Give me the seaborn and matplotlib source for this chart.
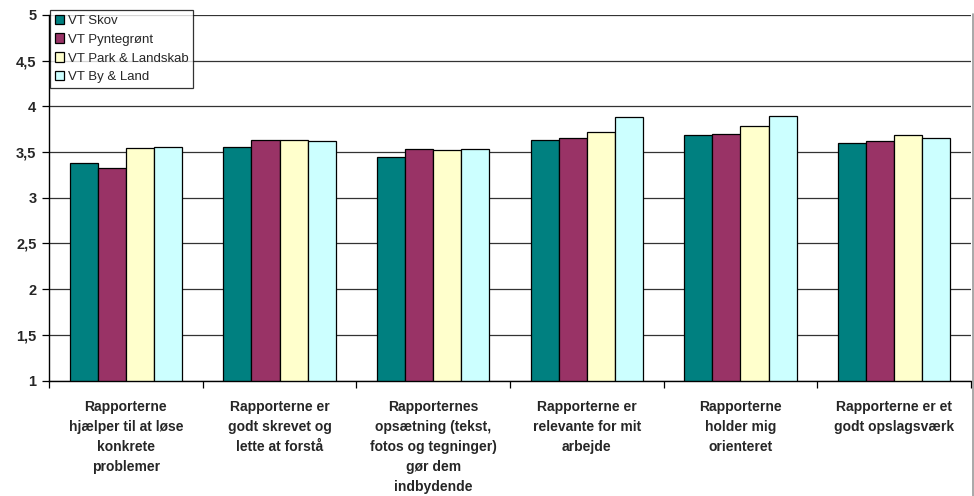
import pandas as pd
import seaborn as sns
import matplotlib.pyplot as plt
from matplotlib.lines import Line2D
from matplotlib.ticker import FuncFormatter, MultipleLocator, FixedLocator

categories = [
    "Rapporterne\nhjælper til at løse\nkonkrete\nproblemer",
    "Rapporterne er\ngodt skrevet og\nlette at forstå",
    "Rapporternes\nopsætning (tekst,\nfotos og tegninger)\ngør dem\nindbydende",
    "Rapporterne er\nrelevante for mit\narbejde",
    "Rapporterne\nholder mig\norienteret",
    "Rapporterne er et\ngodt opslagsværk",
]
series = ["VT Skov", "VT Pyntegrønt", "VT Park & Landskab", "VT By & Land"]
skov = [3.38, 3.56, 3.45, 3.63, 3.69, 3.60]
pyntegroent = [3.33, 3.63, 3.53, 3.65, 3.70, 3.62]
park = [3.54, 3.63, 3.52, 3.72, 3.78, 3.69]
by_land = [3.56, 3.62, 3.53, 3.88, 3.90, 3.65]
colors = ["#008080", "#993366", "#FFFFCC", "#CCFFFF"]

rows = []
for name, vals in zip(series, [skov, pyntegroent, park, by_land]):
    for cat, v in zip(categories, vals):
        rows.append({"kategori": cat, "serie": name, "værdi": v})
df = pd.DataFrame(rows)

sns.set_theme(style="white")
plt.rcParams["font.family"] = ["Liberation Sans", "DejaVu Sans"]

fig = plt.figure(figsize=(9.74, 4.96), dpi=100)
ax = fig.add_axes([49 / 974, 1 - 380.5 / 496, 922 / 974, 365.5 / 496])

sns.barplot(
    data=df,
    x="kategori",
    y="værdi",
    hue="serie",
    palette=colors,
    saturation=1,
    width=0.73,
    edgecolor="black",
    linewidth=0.9,
    ax=ax,
)

ax.set_ylim(1, 5)
ax.set_xlim(-0.5, len(categories) - 0.5)
ax.yaxis.set_major_locator(MultipleLocator(0.5))
ax.yaxis.set_major_formatter(
    FuncFormatter(lambda v, p: ("%g" % v).replace(".", ","))
)
ax.yaxis.grid(True, color="#333333", linewidth=0.9)
ax.set_axisbelow(True)
ax.set_xlabel("")
ax.set_ylabel("")

for s in ["top", "right"]:
    ax.spines[s].set_visible(False)
for s in ["left", "bottom"]:
    ax.spines[s].set_color("black")
    ax.spines[s].set_linewidth(1.0)

ax.tick_params(axis="y", left=True, length=5, width=0.9, color="black",
               labelsize=10.5, pad=4)
for lbl in ax.get_yticklabels():
    lbl.set_fontweight("bold")

ax.tick_params(axis="x", which="major", length=0, labelsize=10, pad=14)
ax.xaxis.set_minor_locator(FixedLocator([i - 0.5 for i in range(len(categories) + 1)]))
ax.tick_params(axis="x", which="minor", bottom=True, length=5, width=0.9, color="black")
for lbl in ax.get_xticklabels():
    lbl.set_fontweight("bold")
    lbl.set_linespacing(1.55)

leg = ax.legend(
    loc="upper left",
    bbox_to_anchor=(50 / 974, 1 - 10 / 496),
    bbox_transform=fig.transFigure,
    frameon=True,
    fancybox=False,
    edgecolor="black",
    fontsize=9.5,
    handlelength=0.7,
    handleheight=0.7,
    handletextpad=0.3,
    borderpad=0.35,
    labelspacing=0.5,
    borderaxespad=0,
)
leg.get_frame().set_linewidth(0.9)

# grey chart border on the right edge
fig.add_artist(Line2D([972.5 / 974, 972.5 / 974], [0, 1 - 14 / 496],
                      transform=fig.transFigure, color="#999999", linewidth=1.2))

fig.savefig("out.png", dpi=100)
